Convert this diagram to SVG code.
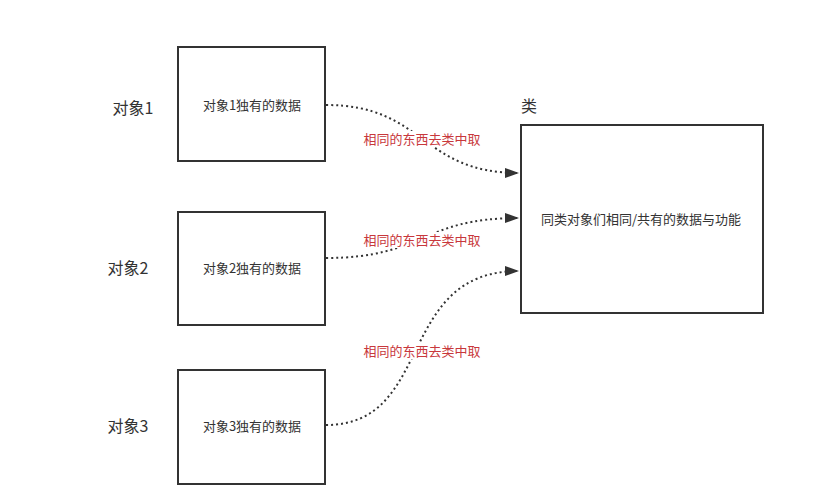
<svg xmlns="http://www.w3.org/2000/svg" width="825" height="498" viewBox="0 0 825 498">
<style>
.box{fill:#fff;stroke:#333;stroke-width:2}
.t{font-family:"Noto Sans CJK SC","Liberation Sans",sans-serif;font-size:13px;fill:#333;text-anchor:middle}
.side{font-family:"Noto Sans CJK SC","Liberation Sans",sans-serif;font-size:16px;fill:#333;text-anchor:middle}
.lbl{font-family:"Noto Sans CJK SC","Liberation Sans",sans-serif;font-size:13px;fill:#c8383c;text-anchor:middle}
.bg{fill:#fff}
.c{fill:none;stroke:#333;stroke-width:2;stroke-dasharray:2 3}
</style>
<defs>
<marker id="ah" markerWidth="14" markerHeight="10" refX="14" refY="5" orient="auto" markerUnits="userSpaceOnUse">
<path d="M0,0 L14,5 L0,10 Z" fill="#333"/>
</marker>
</defs>
<rect width="825" height="498" fill="#fff"/>
<g id="connectors">
<path class="c" d="M326,105 C425,105 420,173 519,173" marker-end="url(#ah)"/>
<path class="c" d="M326,258 C425,258 420,218 519,218" marker-end="url(#ah)"/>
<path class="c" d="M326,425 C435,425 395,271 519,271" marker-end="url(#ah)"/>
<rect class="bg" x="363" y="131" width="118" height="16"/>
<text class="lbl" x="422" y="144">相同的东西去类中取</text>
<rect class="bg" x="363" y="232" width="118" height="16"/>
<text class="lbl" x="422" y="245">相同的东西去类中取</text>
<rect class="bg" x="363" y="343" width="118" height="16"/>
<text class="lbl" x="422" y="356">相同的东西去类中取</text>
</g>
<g id="obj1">
<rect class="box" x="178" y="47" width="147" height="114"/>
<text class="t" x="252" y="110">对象1独有的数据</text>
<text class="side" x="133" y="114">对象1</text>
</g>
<g id="obj2">
<rect class="box" x="178" y="212" width="147" height="113"/>
<text class="t" x="252" y="273">对象2独有的数据</text>
<text class="side" x="128" y="274">对象2</text>
</g>
<g id="obj3">
<rect class="box" x="178" y="370" width="147" height="114"/>
<text class="t" x="252" y="431">对象3独有的数据</text>
<text class="side" x="128" y="432">对象3</text>
</g>
<g id="class">
<rect class="box" x="521" y="125" width="242" height="188"/>
<text class="t" x="641" y="224">同类对象们相同/共有的数据与功能</text>
<text class="side" x="529" y="112">类</text>
</g>
</svg>
